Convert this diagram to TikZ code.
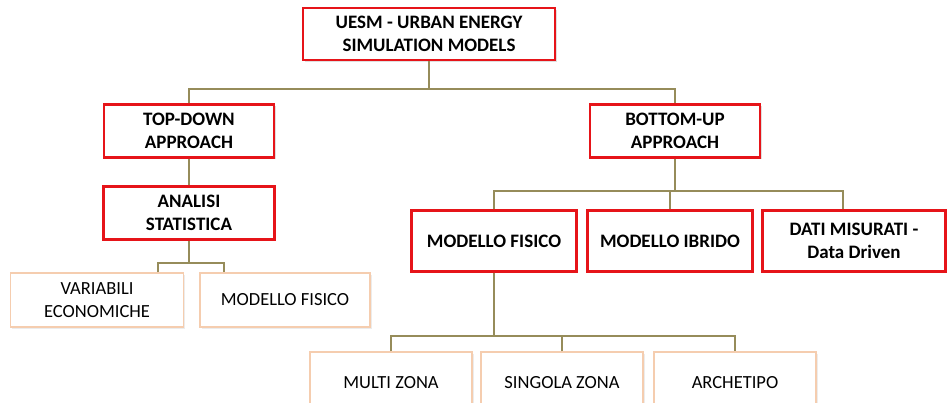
\documentclass[tikz,border=0pt]{standalone}
\usepackage{fontspec}
\setmainfont{Carlito}
\usetikzlibrary{positioning,shadows}

\definecolor{boxred}{RGB}{230,20,25}
\definecolor{boxtan}{RGB}{245,205,175}
\definecolor{linkolive}{RGB}{150,140,90}

\begin{document}
\begin{tikzpicture}[
  x=1pt,y=-1pt,
  main/.style={draw=boxred,line width=2.4pt,fill=white,align=center,
    font=\fontsize{19}{23}\selectfont\bfseries,inner sep=2pt,
    drop shadow={opacity=.25,shadow xshift=1.5pt,shadow yshift=-1.5pt}},
  leaf/.style={draw=boxtan,line width=1.4pt,fill=white,align=center,
    font=\fontsize{18.5}{23}\selectfont,inner sep=2pt,
    drop shadow={opacity=.15,shadow xshift=1.5pt,shadow yshift=-1.5pt}},
  link/.style={draw=linkolive,line width=1.8pt}
]
  \useasboundingbox (0,0) rectangle (948,402);

  \node[main,minimum width=252pt,minimum height=52pt] (uesm) at (429,34)
    {UESM - URBAN ENERGY\\SIMULATION MODELS};
  \node[main,minimum width=170pt,minimum height=53pt] (td) at (189,131)
    {TOP-DOWN\\APPROACH};
  \node[main,minimum width=170pt,minimum height=53pt] (bu) at (675,131)
    {BOTTOM-UP\\APPROACH};
  \node[main,minimum width=171pt,minimum height=53pt] (stat) at (189,213)
    {ANALISI\\STATISTICA};

  \node[main,minimum width=165pt,minimum height=61pt] (fis) at (494,241)
    {MODELLO FISICO};
  \node[main,minimum width=165pt,minimum height=61pt] (ibr) at (670,241)
    {MODELLO IBRIDO};
  \node[main,minimum width=183pt,minimum height=61pt] (dati) at (854,241)
    {DATI MISURATI -\\Data Driven};

  \node[leaf,minimum width=173pt,minimum height=54pt] (econ) at (97,300)
    {VARIABILI\\ECONOMICHE};
  \node[leaf,minimum width=170pt,minimum height=54pt] (fisL) at (285,300)
    {MODELLO FISICO};

  \node[leaf,minimum width=162pt,minimum height=62pt] (multi) at (391,383)
    {MULTI ZONA};
  \node[leaf,minimum width=162pt,minimum height=62pt] (sing) at (562,383)
    {SINGOLA ZONA};
  \node[leaf,minimum width=162pt,minimum height=62pt] (arch) at (735,383)
    {ARCHETIPO};

  % tree links
  \draw[link] (uesm.south) -- ++(0,28) coordinate (j1);
  \draw[link] (td.north) |- (j1) -| (bu.north);
  \draw[link] (td) -- (stat);

  \draw[link] (stat.south) -- ++(0,22) coordinate (j2);
  \draw[link] ([xshift=-26pt]econ.north east) |- (j2) -| ([xshift=25pt]fisL.north west);

  \draw[link] (bu.south) -- ++(0,32) coordinate (j3);
  \draw[link] (fis.north) |- (j3) -| ([xshift=-11pt]dati.north);
  \draw[link] (ibr.north) -- (ibr.north |- j3);

  \draw[link] (fis.south) -- ++(0,63) coordinate (j4);
  \draw[link] (multi.north) |- (j4) -| (arch.north);
  \draw[link] (sing.north) -- (sing.north |- j4);
\end{tikzpicture}
\end{document}
